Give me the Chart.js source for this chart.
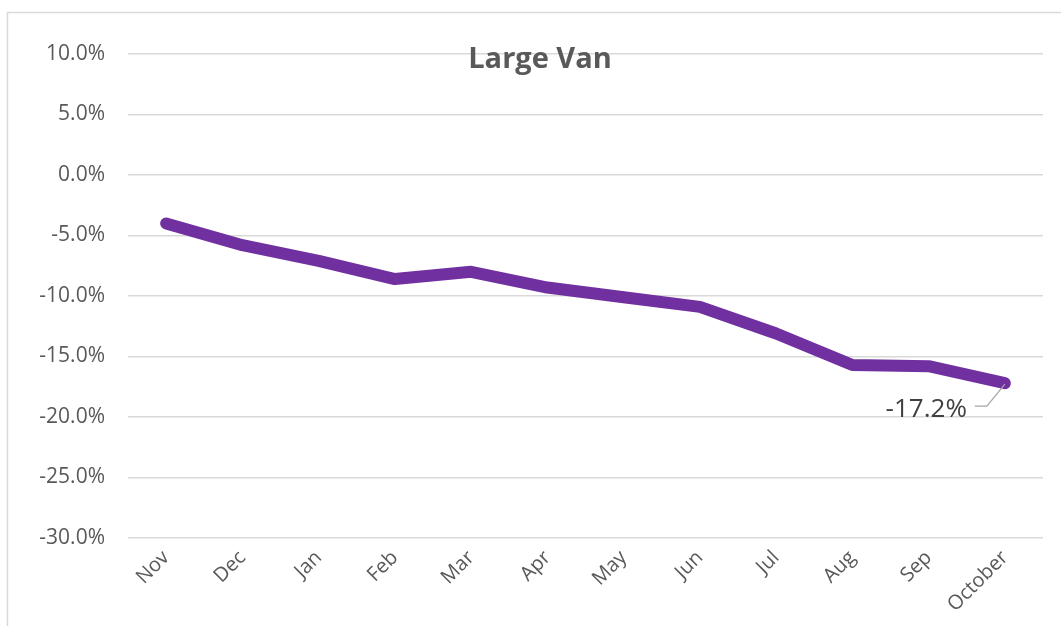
<!DOCTYPE html>
<html>
<head>
<meta charset="utf-8">
<script src="https://cdn.jsdelivr.net/npm/chart.js@4/dist/chart.umd.min.js"></script>
<style>
  html, body { margin: 0; padding: 0; background: #ffffff; }
  #wrap { width: 1061px; height: 626px; position: relative; }
</style>
</head>
<body>
<div id="wrap"><canvas id="c" width="1061" height="626"></canvas></div>
<script>
// Monthly change, Large Van segment (%)
const months = ['Nov', 'Dec', 'Jan', 'Feb', 'Mar', 'Apr', 'May', 'Jun', 'Jul', 'Aug', 'Sep', 'October'];
const largeVan = [-4.0, -5.8, -7.1, -8.6, -8.0, -9.3, -10.1, -10.9, -13.1, -15.7, -15.8, -17.2];
const yTicks = [10, 5, 0, -5, -10, -15, -20, -25, -30];
const chartTitle = 'Large Van';

const FONT = "'Open Sans', 'DejaVu Sans', sans-serif";

// Outer frame of the chart box
const framePlugin = {
  id: 'frame',
  beforeDraw(chart) {
    const ctx = chart.ctx;
    ctx.save();
    ctx.fillStyle = '#ffffff';
    ctx.fillRect(0, 0, chart.width, chart.height);
    ctx.strokeStyle = '#d9d9d9';
    ctx.lineWidth = 1.5;
    ctx.strokeRect(7.5, 12.5, chart.width + 10, chart.height + 10);
    ctx.restore();
  }
};

// Title drawn over the plot, and a callout on the last point
const overlayPlugin = {
  id: 'overlay',
  afterDatasetsDraw(chart) {
    const ctx = chart.ctx;
    ctx.save();
    ctx.fillStyle = '#595959';
    ctx.font = "bold 29px " + FONT;
    ctx.textAlign = 'center';
    ctx.textBaseline = 'alphabetic';
    ctx.fillText(chartTitle, 540, 68);

    const meta = chart.getDatasetMeta(0);
    const last = largeVan.length - 1;
    const pt = meta.data[last];
    const px = pt.x, py = pt.y;
    ctx.strokeStyle = '#a6a6a6';
    ctx.lineWidth = 1.3;
    ctx.beginPath();
    ctx.moveTo(px - 30, py + 23);
    ctx.lineTo(px - 18, py + 23);
    ctx.lineTo(px, py + 1);
    ctx.stroke();

    ctx.fillStyle = '#404040';
    ctx.font = "26px " + FONT;
    ctx.textAlign = 'right';
    ctx.fillText(largeVan[last].toFixed(1) + '%', px - 38, py + 34);
    ctx.restore();
  }
};

new Chart(document.getElementById('c'), {
  type: 'line',
  data: {
    labels: months,
    datasets: [{
      label: chartTitle,
      data: largeVan,
      borderColor: '#7030a0',
      backgroundColor: '#7030a0',
      borderWidth: 12,
      borderCapStyle: 'round',
      borderJoinStyle: 'round',
      pointRadius: 0,
      pointHoverRadius: 0,
      tension: 0,
      fill: false
    }]
  },
  options: {
    responsive: false,
    animation: false,
    devicePixelRatio: 1,
    layout: { padding: { top: 54, right: 18, left: 0, bottom: 0 } },
    plugins: {
      legend: { display: false },
      title: { display: false },
      tooltip: { enabled: false }
    },
    scales: {
      x: {
        offset: true,
        grid: { display: false, drawTicks: false },
        border: { display: false },
        ticks: {
          color: '#595959',
          font: { family: FONT, size: 20 },
          maxRotation: 45,
          minRotation: 45,
          autoSkip: false,
          padding: 8
        },
        afterFit(scale) { scale.height = 88; }
      },
      y: {
        min: -30,
        max: 10,
        afterBuildTicks(scale) {
          scale.ticks = yTicks.map(v => ({ value: v }));
        },
        grid: { color: '#d9d9d9', lineWidth: 1.5, drawTicks: false },
        border: { display: false },
        ticks: {
          color: '#595959',
          font: { family: FONT, size: 21 },
          padding: 23,
          callback: v => v.toFixed(1) + '%'
        },
        afterFit(scale) { scale.width = 128; }
      }
    }
  },
  plugins: [framePlugin, overlayPlugin]
});
</script>
</body>
</html>
